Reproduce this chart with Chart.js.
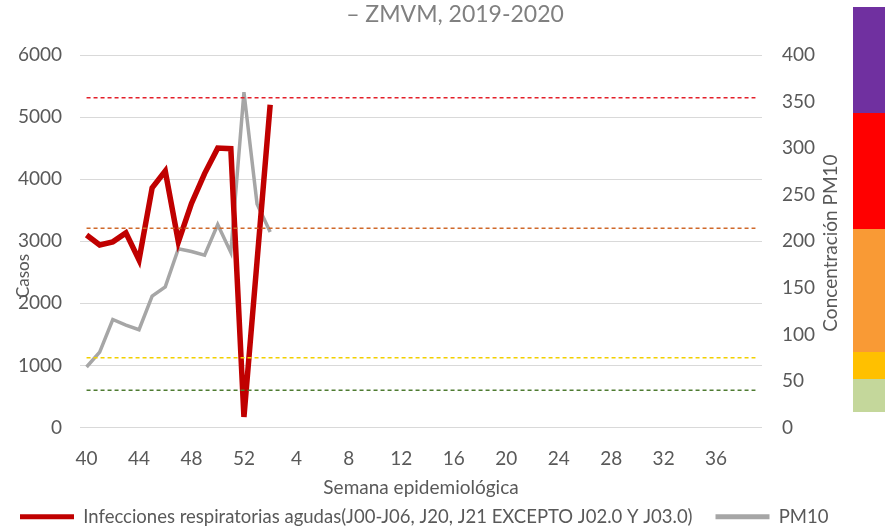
<!DOCTYPE html>
<html>
<head>
<meta charset="utf-8">
<script src="https://cdn.jsdelivr.net/npm/chart.js@4.4.0/dist/chart.umd.min.js"></script>
<style>
  html, body { margin: 0; padding: 0; background: #fff; }
  #wrap { position: relative; width: 885px; height: 526px; }
  #chart { position: absolute; left: 0; top: 0; }
  .band { position: absolute; left: 853px; width: 32px; }
</style>
</head>
<body>
<div id="wrap">
  <canvas id="chart" width="885" height="526"></canvas>
  <div class="band" style="top:7px;height:106px;background:#7030A0"></div>
  <div class="band" style="top:113px;height:116px;background:#FF0000"></div>
  <div class="band" style="top:229px;height:123px;background:#F99A35"></div>
  <div class="band" style="top:352px;height:27px;background:#FFC000"></div>
  <div class="band" style="top:379px;height:33px;background:#C4D79B"></div>
</div>
<script>
// semanas epidemiológicas 2019 (40-52) y 2020 (1-39)
const weeks = ['40','41','42','43','44','45','46','47','48','49','50','51','52',
  '1','2','3','4','5','6','7','8','9','10','11','12','13','14','15','16','17','18','19','20',
  '21','22','23','24','25','26','27','28','29','30','31','32','33','34','35','36','37','38','39'];

const ira = [3100, 2940, 2990, 3135, 2700, 3860, 4130, 2990, 3610, 4090, 4500, 4490, 170, 2680, 5200];
const pm10 = [65, 81, 116, 110, 105, 141, 151, 192, 189, 185, 218, 188, 360, 240, 210];

// límites PM10 (µg/m3)
const limits = [354, 214, 75, 40];
const limitColors = ['#E3202A', '#D0692A', '#F2D000', '#4E7B31'];

const leftTicks = [0, 1000, 2000, 3000, 4000, 5000, 6000];
const rightTicks = [0, 50, 100, 150, 200, 250, 300, 350, 400];

const gray = '#595959';
const font = 'Lato, "Open Sans", sans-serif';

const limitSets = limits.map((v, i) => ({
  label: 'lim' + v,
  data: weeks.map(() => v),
  yAxisID: 'y2',
  borderColor: limitColors[i],
  borderWidth: 1.5,
  borderDash: [4, 3],
  pointRadius: 0,
  order: 0
}));

const titles = {
  id: 'titles',
  afterDraw(chart) {
    const c = chart.ctx;
    c.save();
    c.fillStyle = '#808080';
    c.font = '23px ' + font;
    c.textAlign = 'center';
    c.textBaseline = 'middle';
    c.fillText('– ZMVM, 2019-2020', 455, 15);
    c.fillStyle = gray;
    c.font = '17px ' + font;
    c.translate(24, 276);
    c.rotate(-Math.PI / 2);
    c.fillText('Casos', 0, 0);
    c.restore();
    c.save();
    c.fillStyle = gray;
    c.font = '19px ' + font;
    c.textAlign = 'center';
    c.textBaseline = 'middle';
    c.translate(831, 243);
    c.rotate(-Math.PI / 2);
    c.fillText('Concentración PM10', 0, 0);
    c.restore();
  }
};

new Chart(document.getElementById('chart'), {
  type: 'line',
  data: {
    labels: weeks,
    datasets: [
      { label: 'Infecciones respiratorias agudas(J00-J06, J20, J21 EXCEPTO J02.0 Y J03.0)', data: ira, yAxisID: 'y',
        borderColor: '#C00000', backgroundColor: '#C00000', borderWidth: 5.5, pointRadius: 0, order: 1 },
      { label: 'PM10', data: pm10, yAxisID: 'y2',
        borderColor: '#A6A6A6', backgroundColor: '#A6A6A6', borderWidth: 3.5, pointRadius: 0, order: 2 },
      ...limitSets
    ]
  },
  options: {
    responsive: false,
    animation: false,
    layout: { padding: { top: 55, left: 16, right: 0, bottom: -10 } },
    plugins: {
      tooltip: { enabled: false },
      legend: {
        position: 'bottom',
        align: 'start',
        labels: {
          color: gray,
          font: { family: font, size: 18.5 },
          boxWidth: 54,
          boxHeight: 5,
          padding: 4,
          generateLabels: (chart) => Chart.defaults.plugins.legend.labels.generateLabels(chart)
            .filter(l => l.datasetIndex < 2)
            .map(l => ({ ...l, text: l.datasetIndex === 0 ? l.text + '    ' : l.text,
              lineWidth: 0, fillStyle: l.strokeStyle }))
        }
      }
    },
    scales: {
      x: {
        offset: true,
        grid: { display: false, drawTicks: false },
        border: { display: false },
        ticks: {
          autoSkip: false, maxRotation: 0, color: gray, padding: 20,
          font: { family: font, size: 19 },
          callback: (v, i) => (i % 4 === 0 ? weeks[i] : null)
        },
        title: { display: true, text: 'Semana epidemiológica', color: gray,
          font: { family: font, size: 19 }, padding: { top: 0, bottom: 4 } },
        afterFit: (s) => { s.height = 76; }
      },
      y: {
        position: 'left', min: 0, max: 6000,
        grid: { color: '#D9D9D9', lineWidth: 1, drawTicks: false },
        border: { display: false },
        ticks: { stepSize: 1000, color: gray, padding: 18, font: { family: font, size: 19 },
          callback: (v) => String(v) },
        afterBuildTicks: (s) => { s.ticks = leftTicks.map(v => ({ value: v })); },
        afterFit: (s) => { s.width = 64; }
      },
      y2: {
        position: 'right', min: 0, max: 400,
        grid: { display: false, drawTicks: false },
        border: { display: false },
        ticks: { stepSize: 50, color: gray, padding: 20, font: { family: font, size: 19 },
          callback: (v) => String(v) },
        afterBuildTicks: (s) => { s.ticks = rightTicks.map(v => ({ value: v })); },
        afterFit: (s) => { s.width = 123; }
      }
    }
  },
  plugins: [titles]
});
</script>
</body>
</html>
